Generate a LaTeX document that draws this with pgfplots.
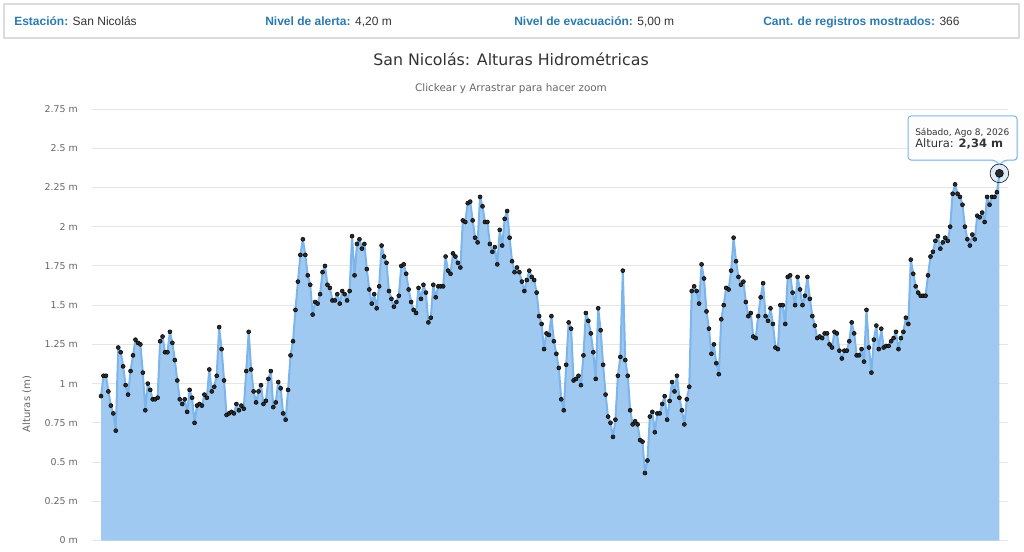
\documentclass[border=0pt]{standalone}
\usepackage{pgfplots}
\pgfplotsset{compat=1.18}
\usepackage{pgfplotstable}
\usepackage{fontspec}
\setmainfont{DejaVu Sans}
\newfontfamily\hdrfont{Liberation Sans}
\definecolor{hdrblue}{HTML}{2A7AB0}
\definecolor{txt}{HTML}{333333}
\definecolor{lab}{HTML}{666666}
\definecolor{gridc}{HTML}{E6E6E6}
\definecolor{boxc}{HTML}{DCDCDC}
\definecolor{areaf}{HTML}{9FC9F1}
\definecolor{linec}{HTML}{7CB5EC}
\definecolor{markc}{HTML}{2B2B2B}
\newdimen\px \px=0.75pt
\newcommand\fs[1]{\fontsize{#1\px}{#1\px}\selectfont}
\pgfplotstableread{
x y
0 0.92
1 1.05
2 1.05
3 0.95
4 0.86
5 0.81
6 0.70
7 1.23
8 1.20
9 1.11
10 0.99
11 0.93
12 1.08
13 1.18
14 1.28
15 1.26
16 1.25
17 1.07
18 0.83
19 1.00
20 0.96
21 0.90
22 0.90
23 0.91
24 1.27
25 1.30
26 1.20
27 1.20
28 1.33
29 1.26
30 1.15
31 1.02
32 0.90
33 0.87
34 0.90
35 0.82
36 0.96
37 0.91
38 0.75
39 0.86
40 0.87
41 0.86
42 0.93
43 0.91
44 1.09
45 0.95
46 0.98
47 1.05
48 1.36
49 1.22
50 1.02
51 0.80
52 0.81
53 0.82
54 0.81
55 0.87
56 0.83
57 0.86
58 0.84
59 1.08
60 1.33
61 1.09
62 0.95
63 0.88
64 0.95
65 0.99
66 0.87
67 0.89
68 1.03
69 1.08
70 0.85
71 0.88
72 1.01
73 0.97
74 0.81
75 0.77
76 0.96
77 1.18
78 1.27
79 1.47
80 1.65
81 1.82
82 1.92
83 1.82
84 1.69
85 1.63
86 1.44
87 1.52
88 1.51
89 1.57
90 1.71
91 1.75
92 1.63
93 1.61
94 1.53
95 1.53
96 1.57
97 1.51
98 1.59
99 1.57
100 1.53
101 1.59
102 1.94
103 1.69
104 1.89
105 1.92
106 1.86
107 1.89
108 1.73
109 1.60
110 1.51
111 1.57
112 1.48
113 1.62
114 1.88
115 1.81
116 1.77
117 1.59
118 1.54
119 1.49
120 1.52
121 1.56
122 1.75
123 1.76
124 1.70
125 1.60
126 1.52
127 1.47
128 1.45
129 1.61
130 1.54
131 1.63
132 1.58
133 1.39
134 1.42
135 1.63
136 1.55
137 1.62
138 1.62
139 1.62
140 1.81
141 1.72
142 1.70
143 1.83
144 1.81
145 1.77
146 1.74
147 2.04
148 2.03
149 2.15
150 2.16
151 2.04
152 1.93
153 1.90
154 2.19
155 2.13
156 2.03
157 2.03
158 1.89
159 1.84
160 1.87
161 1.76
162 1.98
163 1.88
164 2.05
165 2.10
166 1.93
167 1.78
168 1.71
169 1.74
170 1.71
171 1.65
172 1.59
173 1.66
174 1.72
175 1.68
176 1.66
177 1.58
178 1.43
179 1.38
180 1.22
181 1.32
182 1.31
183 1.43
184 1.27
185 1.19
186 1.10
187 0.90
188 0.83
189 1.12
190 1.39
191 1.35
192 1.02
193 1.03
194 1.05
195 0.99
196 1.18
197 1.45
198 1.40
199 1.32
200 1.20
201 1.03
202 1.48
203 1.34
204 1.12
205 0.93
206 0.79
207 0.75
208 0.66
209 0.77
210 1.05
211 1.17
212 1.72
213 1.15
214 1.05
215 0.83
216 0.74
217 0.76
218 0.74
219 0.64
220 0.63
221 0.43
222 0.51
223 0.79
224 0.82
225 0.69
226 0.81
227 0.81
228 0.87
229 0.92
230 0.77
231 0.89
232 1.01
233 0.95
234 1.05
235 0.91
236 0.83
237 0.74
238 0.90
239 0.98
240 1.59
241 1.62
242 1.59
243 1.51
244 1.76
245 1.67
246 1.46
247 1.35
248 1.19
249 1.25
250 1.13
251 1.06
252 1.41
253 1.50
254 1.61
255 1.60
256 1.72
257 1.93
258 1.78
259 1.68
260 1.63
261 1.65
262 1.52
263 1.43
264 1.45
265 1.30
266 1.29
267 1.43
268 1.55
269 1.64
270 1.43
271 1.40
272 1.48
273 1.38
274 1.23
275 1.22
276 1.50
277 1.50
278 1.38
279 1.68
280 1.69
281 1.58
282 1.50
283 1.68
284 1.60
285 1.50
286 1.56
287 1.68
288 1.54
289 1.43
290 1.37
291 1.29
292 1.30
293 1.29
294 1.32
295 1.32
296 1.25
297 1.23
298 1.33
299 1.32
300 1.21
301 1.16
302 1.21
303 1.21
304 1.27
305 1.39
306 1.32
307 1.18
308 1.18
309 1.22
310 1.14
311 1.47
312 1.23
313 1.07
314 1.28
315 1.37
316 1.22
317 1.35
318 1.23
319 1.24
320 1.24
321 1.27
322 1.29
323 1.33
324 1.22
325 1.29
326 1.33
327 1.42
328 1.38
329 1.79
330 1.70
331 1.62
332 1.58
333 1.56
334 1.56
335 1.56
336 1.69
337 1.81
338 1.84
339 1.91
340 1.94
341 1.86
342 1.90
343 1.93
344 1.91
345 2.00
346 2.21
347 2.27
348 2.21
349 2.19
350 2.14
351 2.00
352 1.92
353 1.88
354 1.95
355 1.92
356 2.07
357 2.06
358 2.09
359 2.03
360 2.19
361 2.14
362 2.19
363 2.19
364 2.22
365 2.34
}\alturas
\begin{document}
\begin{tikzpicture}[x=\px,y=\px]
\path[use as bounding box] (0,0) rectangle (1024,551);
% header box
\draw[draw=boxc, line width=1.5pt] (4,547) rectangle (1019,513);
\node[anchor=base west, inner sep=0pt, font=\hdrfont\fs{12}] at (14,525.5) {\textcolor{hdrblue}{\bfseries Estación:} \textcolor{txt}{San Nicolás}};
\node[anchor=base west, inner sep=0pt, font=\hdrfont\fs{12}] at (265,525.5) {\textcolor{hdrblue}{\bfseries Nivel de alerta:} \textcolor{txt}{4,20 m}};
\node[anchor=base west, inner sep=0pt, font=\hdrfont\fs{12}] at (514,525.5) {\textcolor{hdrblue}{\bfseries Nivel de evacuación:} \textcolor{txt}{5,00 m}};
\node[anchor=base west, inner sep=0pt, font=\hdrfont\fs{12}] at (763,525.5) {\textcolor{hdrblue}{\bfseries Cant. de registros mostrados:} \textcolor{txt}{366}};
% titles
\node[anchor=base, inner sep=0pt, text=txt, font=\fs{15.8}] at (511,485) {San Nicolás: Alturas Hidrométricas};
\node[anchor=base, inner sep=0pt, text=lab, font=\fs{10.4}] at (511,459.5) {Clickear y Arrastrar para hacer zoom};
% y axis title
\node[rotate=90, inner sep=0pt, text=lab, font=\fs{10}] at (27,147) {Alturas (m)};
\begin{axis}[
  at={(69pt,7.875pt)}, anchor=south west,
  scale only axis, width=687pt, height=323.6pt,
  xmin=-3.66, xmax=368.5, ymin=0, ymax=2.75,
  axis line style={draw=none},
  xtick=\empty,
  ytick={0,0.25,0.5,0.75,1,1.25,1.5,1.75,2,2.25,2.5,2.75},
  major tick length=0pt,
  ymajorgrids, grid style={draw=gridc, line width=0.75pt},
  /pgf/number format/assume math mode=true,
  yticklabel={\pgfmathprintnumber{\tick} m},
  yticklabel style={anchor=east, inner sep=0pt, xshift=-10.5pt, text=lab, font=\fs{9.4}},
  clip=false,
]
\addplot[draw=none, fill=areaf] table[x=x,y=y]{\alturas} \closedcycle;
\addplot[draw=linec, line width=1.5pt, line join=round, no marks] table[x=x,y=y]{\alturas};
\addplot[only marks, mark=*, mark size=1.5pt, mark options={fill=markc, draw=none}] table[x=x,y=y]{\alturas};
\addplot[only marks, mark=*, mark size=7pt, mark options={fill=linec, fill opacity=0.25, draw=none}] coordinates {(365,2.34)};
\addplot[only marks, mark=*, mark size=3pt, mark options={fill=markc, draw=none}] coordinates {(365,2.34)};
\end{axis}
% tooltip
\path[fill=black, fill opacity=0.08, rounded corners=2.25pt, shift={(1,-1)}] (908,435) -- (1017,435) -- (1017,391) -- (1004.5,391) -- (999.5,386) -- (994.5,391) -- (908,391) -- cycle;
\path[draw=linec, line width=0.75pt, fill=white, fill opacity=0.95, rounded corners=2.25pt] (908,435) -- (1017,435) -- (1017,391) -- (1004.5,391) -- (999.5,386) -- (994.5,391) -- (908,391) -- cycle;
\node[anchor=base west, inner sep=0pt, text=txt, font=\fs{9}] at (915,416) {Sábado, Ago 8, 2026};
\node[anchor=base west, inner sep=0pt, text=txt, font=\fs{11.5}] at (915,403.5) {Altura: \textbf{2,34 m}};
\end{tikzpicture}
\end{document}
